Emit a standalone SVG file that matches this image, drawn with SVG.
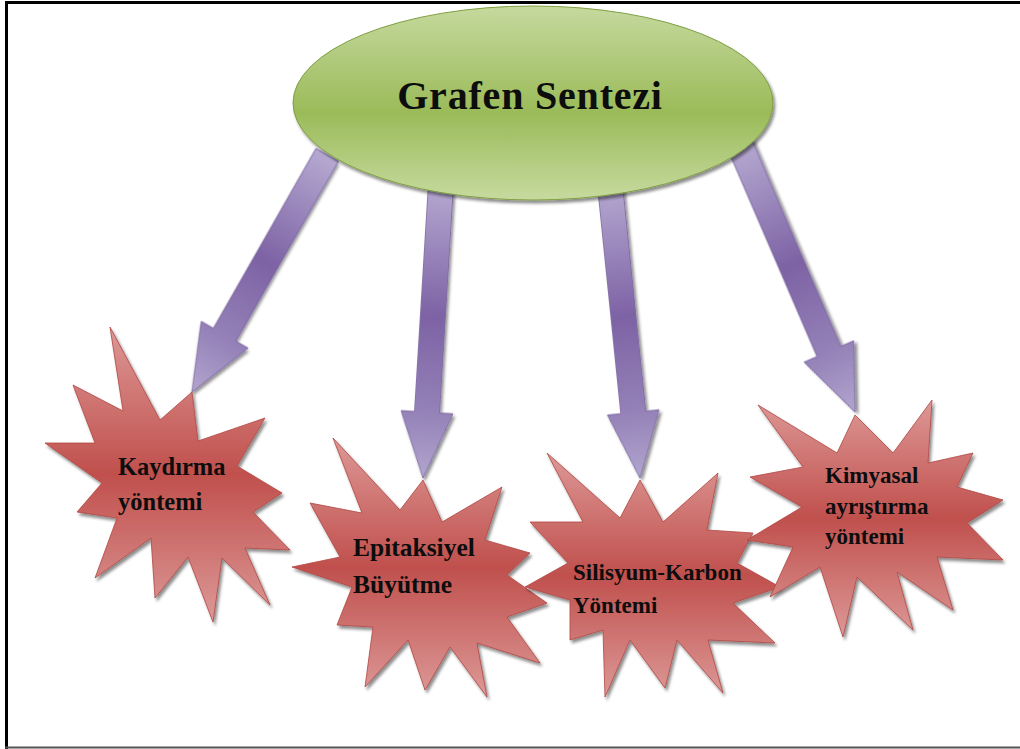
<svg xmlns="http://www.w3.org/2000/svg" width="1020" height="749" viewBox="0 0 1020 749">
<defs>
<linearGradient id="gArrow" x1="0" y1="0" x2="0" y2="1">
<stop offset="0" stop-color="#b5a9d1"/>
<stop offset="0.45" stop-color="#7d62a4"/>
<stop offset="0.78" stop-color="#9582b8"/>
<stop offset="1" stop-color="#b2a5cf"/>
</linearGradient>
<linearGradient id="gStar" x1="0" y1="0" x2="0" y2="1">
<stop offset="0" stop-color="#dd9896"/>
<stop offset="0.5" stop-color="#c0504d"/>
<stop offset="1" stop-color="#dc9997"/>
</linearGradient>
<linearGradient id="gEll" x1="0" y1="0" x2="0" y2="1">
<stop offset="0" stop-color="#c5d99e"/>
<stop offset="0.55" stop-color="#9bbb59"/>
<stop offset="1" stop-color="#c6da9f"/>
</linearGradient>
<filter id="shadow" x="-10%" y="-10%" width="125%" height="125%">
<feDropShadow dx="2" dy="3" stdDeviation="1.6" flood-color="#000" flood-opacity="0.45"/>
</filter>
</defs>
<style>
.arrow{fill:url(#gArrow);stroke:#7a64a0;stroke-width:0.8;filter:url(#shadow)}
.star{fill:url(#gStar);stroke:#b04643;stroke-width:0.8;filter:url(#shadow)}
.lbl{font-family:"Liberation Serif","Times New Roman",serif;font-weight:bold;fill:#0d0d0d}
</style>
<rect x="0" y="0" width="1020" height="749" fill="#ffffff"/>
<g id="frame">
<line x1="6.5" y1="1" x2="6.5" y2="749" stroke="#000" stroke-width="3"/>
<line x1="5" y1="2.5" x2="1020" y2="2.5" stroke="#000" stroke-width="3"/>
<line x1="5" y1="747.5" x2="1020" y2="747.5" stroke="#555" stroke-width="2"/>
</g>
<g id="connectors">
<polygon class="arrow" transform="translate(192,392) rotate(29.7)" points="-13,-273 13,-273 13,-66 27,-66 0,0 -27,-66 -13,-66"/>
<polygon class="arrow" transform="translate(423,478) rotate(3.5)" points="-12.5,-294 12.5,-294 12.5,-66 26,-66 0,0 -26,-66 -12.5,-66"/>
<polygon class="arrow" transform="translate(640,478) rotate(-5.85)" points="-12.5,-295 12.5,-295 12.5,-66 26,-66 0,0 -26,-66 -12.5,-66"/>
<polygon class="arrow" transform="translate(855,412) rotate(-23.3)" points="-13,-291 13,-291 13,-66 27,-66 0,0 -27,-66 -13,-66"/>
</g>
<g id="root">
<ellipse cx="533" cy="103" rx="240" ry="97" fill="url(#gEll)" stroke="#7f9f41" stroke-width="1" filter="url(#shadow)"/>
<text class="lbl" x="530" y="109" font-size="40" letter-spacing="0.8" text-anchor="middle">Grafen Sentezi</text>
</g>
<g id="n1">
<polygon class="star" points="110,327 160,420 192,392 198,441 265,418 237,466 282,493 253,512 290,550 245,548 270,605 222,558 213,622 188,557 155,598 151,538 95,578 117,518 77,512 102,483 45,443 95,443 73,385 123,411"/>
<text class="lbl" font-size="24.5"><tspan x="118" y="475">Kaydırma</tspan><tspan x="118" y="510">yöntemi</tspan></text>
</g>
<g id="n2">
<polygon class="star" points="333,438 400,510 423,480 442,522 502,487 485,540 530,553 507,575 547,603 507,617 540,663 477,643 487,697 450,647 425,690 408,640 365,687 373,627 337,625 352,587 292,567 340,557 310,503 362,513"/>
<text class="lbl" font-size="25.5"><tspan x="353" y="556">Epitaksiyel</tspan><tspan x="353" y="593">Büyütme</tspan></text>
</g>
<g id="n3">
<polygon class="star" points="547,453 620,518 640,480 663,522 718,473 707,530 753,533 737,563 780,587 733,603 775,643 708,640 723,693 677,640 665,688 630,640 605,697 603,630 570,640 570,600 525,587 568,563 530,522 583,522"/>
<text class="lbl" font-size="23"><tspan x="573" y="580">Silisyum-Karbon</tspan><tspan x="573" y="613">Yöntemi</tspan></text>
</g>
<g id="n4">
<polygon class="star" points="758,405 837,453 855,415 893,453 932,400 928,463 973,453 957,487 1003,500 967,523 1003,560 937,557 953,610 897,572 913,630 857,577 843,637 820,567 770,597 793,547 747,540 802,507 750,477 803,467"/>
<text class="lbl" font-size="23"><tspan x="825" y="483">Kimyasal</tspan><tspan x="825" y="514">ayrıştırma</tspan><tspan x="825" y="544">yöntemi</tspan></text>
</g>
</svg>
